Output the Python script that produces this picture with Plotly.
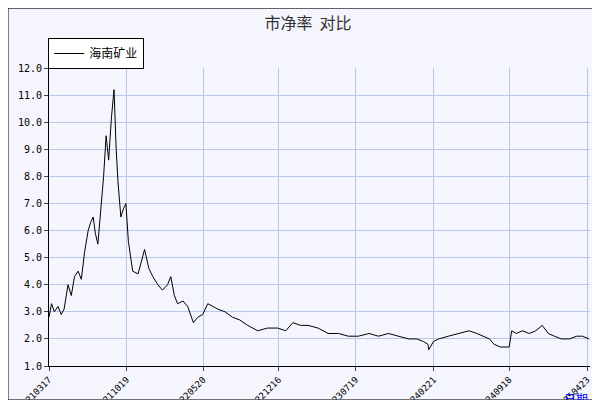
import plotly.graph_objects as go

# Data
dates = [
    "2021-03-17", "2021-03-24", "2021-04-01", "2021-04-11", "2021-04-20", "2021-04-28",
    "2021-05-09", "2021-05-18", "2021-05-27", "2021-06-06", "2021-06-15", "2021-06-24",
    "2021-07-04", "2021-07-11", "2021-07-18", "2021-07-24", "2021-07-31", "2021-08-08",
    "2021-08-16", "2021-08-23", "2021-08-30", "2021-09-07", "2021-09-14", "2021-09-20",
    "2021-09-25", "2021-10-03", "2021-10-10", "2021-10-17", "2021-10-24", "2021-11-05",
    "2021-11-20", "2021-12-08", "2021-12-20", "2021-12-31", "2022-01-14", "2022-01-27",
    "2022-02-10", "2022-02-19", "2022-03-01", "2022-03-10", "2022-03-25", "2022-04-07",
    "2022-04-23", "2022-05-05", "2022-05-19", "2022-06-02", "2022-06-16", "2022-06-30",
    "2022-07-20", "2022-08-10", "2022-08-30", "2022-09-21", "2022-10-19", "2022-11-15",
    "2022-12-14", "2023-01-05", "2023-01-25", "2023-02-15", "2023-03-08", "2023-04-05",
    "2023-05-03", "2023-06-01", "2023-06-28", "2023-07-26", "2023-08-25", "2023-09-20",
    "2023-10-18", "2023-11-15", "2023-12-13", "2024-01-05", "2024-01-24", "2024-02-05",
    "2024-02-07", "2024-02-20", "2024-03-06", "2024-04-02", "2024-05-01", "2024-05-29",
    "2024-06-20", "2024-07-10", "2024-07-25", "2024-08-07", "2024-08-25", "2024-09-18",
    "2024-09-25", "2024-10-08", "2024-10-25", "2024-11-13", "2024-12-01", "2024-12-19",
    "2025-01-05", "2025-01-22", "2025-02-10", "2025-03-05", "2025-03-25", "2025-04-10",
    "2025-04-28",
]
pb = [
    2.8, 3.3, 3.0, 3.2, 2.9, 3.1,
    4.0, 3.6, 4.3, 4.5, 4.2, 5.2,
    6.0, 6.3, 6.5, 5.9, 5.5, 6.8,
    8.0, 9.5, 8.6, 10.2, 11.2, 9.0,
    7.8, 6.5, 6.8, 7.0, 5.6, 4.5,
    4.4, 5.3, 4.6, 4.3, 4.0, 3.8,
    4.0, 4.3, 3.6, 3.3, 3.4, 3.2,
    2.6, 2.8, 2.9, 3.3, 3.2, 3.1,
    3.0, 2.8, 2.7, 2.5, 2.3, 2.4,
    2.4, 2.3, 2.6, 2.5, 2.5, 2.4,
    2.2, 2.2, 2.1, 2.1, 2.2, 2.1,
    2.2, 2.1, 2.0, 2.0, 1.9, 1.8,
    1.6, 1.9, 2.0, 2.1, 2.2, 2.3,
    2.2, 2.1, 2.0, 1.8, 1.7, 1.7,
    2.3, 2.2, 2.3, 2.2, 2.3, 2.5,
    2.2, 2.1, 2.0, 2.0, 2.1, 2.1,
    2.0,
]
tick_dates = ["2021-03-17", "2021-10-19", "2022-05-20", "2022-12-16",
              "2023-07-19", "2024-02-21", "2024-09-18", "2025-04-23"]
tick_text = ["20210317", "20211019", "20220520", "20221216",
             "20230719", "20240221", "20240918", "20250423"]

fig = go.Figure()
fig.add_trace(go.Scatter(x=dates, y=pb, mode="lines", name="海南矿业",
                         line=dict(color="black", width=1)))

mono = "DejaVu Sans Mono"
fig.update_layout(
    width=600, height=400,
    margin=dict(l=41, r=18, t=60, b=42, autoexpand=False),
    paper_bgcolor="#f4f5fd",
    plot_bgcolor="#dae1f6",
    title=dict(text="市净率  对比", x=0.5, y=0.975, xanchor="center",
               font=dict(family="Noto Sans CJK SC", size=16, color="#333")),
    showlegend=True,
    legend=dict(xref="container", yref="container", x=0.067, y=0.925,
                xanchor="left", yanchor="top",
                bgcolor="white", bordercolor="black", borderwidth=1,
                font=dict(family="Noto Sans CJK SC", size=12, color="black")),
    xaxis=dict(type="date", range=["2021-03-17", "2025-05-01"], automargin=False,
               tickvals=tick_dates, ticktext=tick_text, tickangle=-45,
               showgrid=True, gridcolor="#b8c6ea", ticks="outside",
               ticklen=4, tickfont=dict(family=mono, size=9, color="black"),
               showline=True, linecolor="black"),
    yaxis=dict(range=[1.0, 12.0], dtick=1.0, tickformat=".1f", automargin=False,
               showgrid=True, gridcolor="#b8c6ea", ticks="outside",
               ticklen=4, tickfont=dict(family=mono, size=10, color="black"),
               showline=True, linecolor="black"),
    shapes=[
        dict(type="rect", xref="paper", yref="paper", x0=-0.068, x1=1.030,
             y0=-0.134, y1=1.181, line=dict(width=0), fillcolor="#666",
             layer="below"),
        dict(type="rect", xref="paper", yref="paper", x0=-0.0758, x1=1.0185,
             y0=-0.114, y1=1.201, line=dict(color="black", width=1),
             fillcolor="#f4f5fd", layer="below"),
    ],
    annotations=[
        dict(text="日期", xref="paper", yref="paper", x=1.0, y=-0.11,
             xanchor="right", yanchor="middle", showarrow=False,
             font=dict(family="Noto Sans CJK SC", size=12, color="blue")),
    ],
)

fig.write_html("out.html")
